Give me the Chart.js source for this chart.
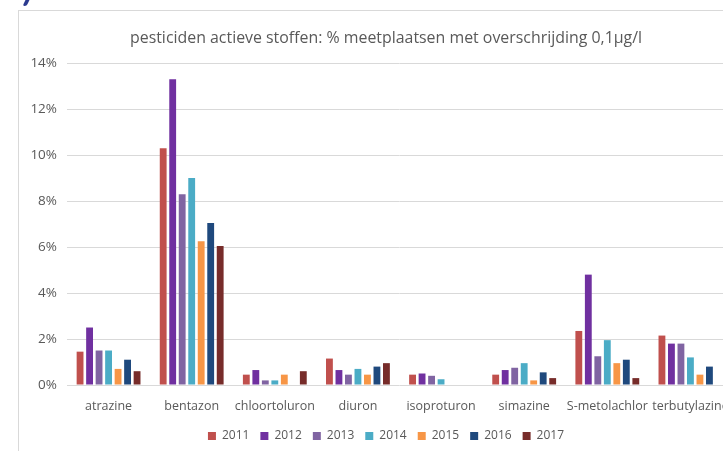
<!DOCTYPE html>
<html lang="nl">
<head>
<meta charset="UTF-8">
<title>pesticiden actieve stoffen</title>
<style>
    html, body {
        margin: 0;
        padding: 0;
        background: #fff;
        overflow: hidden;
        width: 723px;
        height: 451px;
    }
    #frame {
        position: absolute;
        left: 18px;
        top: 10px;
        width: 734px;
        height: 460px;
        border-left: 1px solid #d9d9d9;
        border-top: 1px solid #d9d9d9;
    }
    #wrap {
        position: relative;
        width: 734px;
        height: 441px;
    }
    #tick {
        position: absolute;
        left: 25px;
        top: -4px;
        width: 4px;
        height: 10px;
        background: #2b3a8f;
        transform: skewX(-25deg);
        border-radius: 2px;
    }
</style>
</head>
<body>
<div id="tick"></div>
<div id="frame">
    <div id="wrap"><canvas id="barChart"></canvas></div>
</div>
<script src="https://cdn.jsdelivr.net/npm/chart.js@4/dist/chart.umd.min.js"></script>
<script>
    // stoffen en jaren
    const stoffen = ["atrazine", "bentazon", "chloortoluron", "diuron", "isoproturon", "simazine", "S-metolachlor", "terbutylazine"];
    const jaren = ["2011", "2012", "2013", "2014", "2015", "2016", "2017"];
    const kleuren = ["#c0504d", "#7030a0", "#8064a2", "#4bacc6", "#f79646", "#1f497d", "#772c2a"];

    // % meetplaatsen met overschrijding per jaar
    const pct2011 = [1.45, 10.3, 0.45, 1.15, 0.45, 0.45, 2.35, 2.15];
    const pct2012 = [2.5, 13.3, 0.65, 0.65, 0.5, 0.65, 4.8, 1.8];
    const pct2013 = [1.5, 8.3, 0.2, 0.45, 0.4, 0.75, 1.25, 1.8];
    const pct2014 = [1.5, 9.0, 0.2, 0.7, 0.25, 0.95, 1.95, 1.2];
    const pct2015 = [0.7, 6.25, 0.45, 0.45, 0, 0.2, 0.95, 0.45];
    const pct2016 = [1.1, 7.05, 0, 0.8, 0, 0.55, 1.1, 0.8];
    const pct2017 = [0.6, 6.05, 0.6, 0.95, 0, 0.3, 0.3, 0];

    const yTicks = [0, 2, 4, 6, 8, 10, 12, 14];

    const reeksen = [pct2011, pct2012, pct2013, pct2014, pct2015, pct2016, pct2017];
    const tekstKleur = "#595959";
    const font = "'Open Sans', Lato, sans-serif";

    const datasets = reeksen.map((r, i) => ({
        label: jaren[i],
        data: r,
        backgroundColor: kleuren[i],
        borderWidth: 0,
        categoryPercentage: 0.8,
        barPercentage: 0.72
    }));

    const ctx = document.getElementById("barChart").getContext("2d");
    new Chart(ctx, {
        type: "bar",
        data: { labels: stoffen, datasets: datasets },
        options: {
            responsive: true,
            maintainAspectRatio: false,
            animation: false,
            layout: { padding: 0 },
            plugins: {
                title: {
                    display: true,
                    text: "pesticiden actieve stoffen: % meetplaatsen met overschrijding 0,1µg/l",
                    color: tekstKleur,
                    font: { family: font, size: 15.9, weight: "normal" },
                    padding: { top: 18, bottom: 15 }
                },
                legend: {
                    position: "bottom",
                    labels: {
                        color: tekstKleur,
                        font: { family: font, size: 12 },
                        boxWidth: 8,
                        boxHeight: 8,
                        padding: 11
                    }
                },
                tooltip: { enabled: false }
            },
            scales: {
                x: {
                    grid: { display: false },
                    border: { display: false },
                    ticks: {
                        color: tekstKleur,
                        font: { family: font, size: 12.5 },
                        padding: 6,
                        maxRotation: 0,
                        autoSkip: false
                    },
                    afterFit: s => { s.height = 34; }
                },
                y: {
                    min: 0,
                    max: 14,
                    afterBuildTicks: s => { s.ticks = yTicks.map(v => ({ value: v })); },
                    grid: { color: "#d9d9d9", drawTicks: false, lineWidth: 1 },
                    border: { display: false },
                    ticks: {
                        color: tekstKleur,
                        font: { family: font, size: 13.5 },
                        padding: 10,
                        callback: v => v + "%"
                    },
                    afterFit: s => { s.width = 48; }
                },
                // lege strook rechts zodat titel en legenda goed gecentreerd staan
                rechts: {
                    type: "linear",
                    position: "right",
                    grid: { display: false, drawTicks: false },
                    border: { display: false },
                    ticks: { display: false },
                    afterFit: s => { s.width = 21; }
                }
            }
        }
    });
</script>
</body>
</html>
